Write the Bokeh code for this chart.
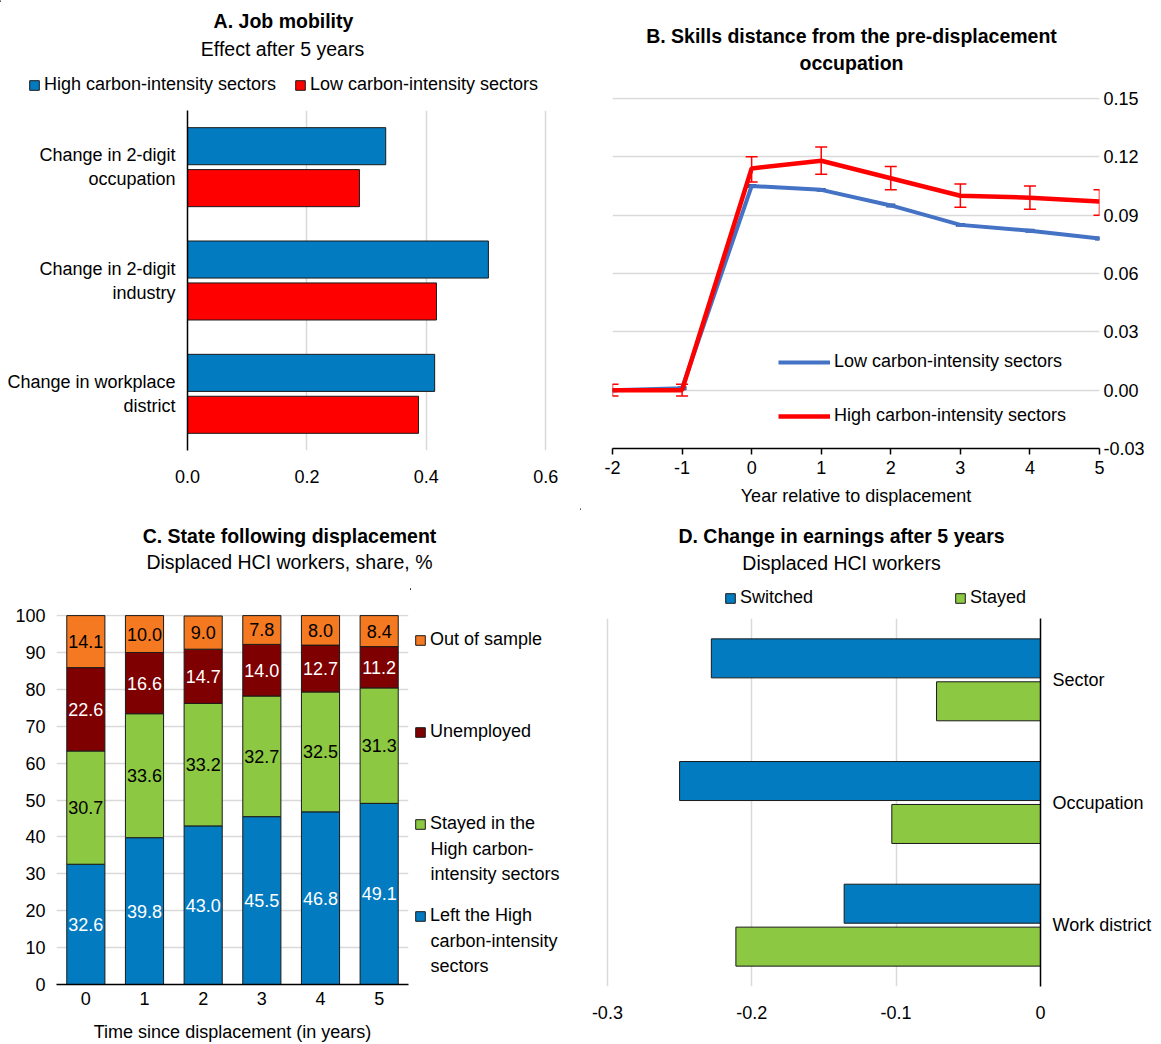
import numpy as np
from bokeh.plotting import figure
from bokeh.models import (ColumnDataSource, FactorRange, Range1d, FixedTicker, NumeralTickFormatter,
                          Legend, LegendItem, Label, Whisker, TeeHead)
from bokeh.transform import dodge
from bokeh.layouts import row, column
from bokeh.core.properties import value
from bokeh.embed import file_html
from bokeh.resources import INLINE

FONT = "Liberation Sans"
FS = "18px"
TFS = "19.5px"
BLUE = "#037BC1"
RED = "#FF0000"
GREEN = "#8CC841"
DARKRED = "#7F0000"
ORANGE = "#F47920"
LINEBLUE = "#4472C4"
GRID = "#D9D9D9"
EDGE = "#1A1A1A"

# ---------------- data ----------------
# Panel A
a_categories = ["Change in 2-digit\noccupation", "Change in 2-digit\nindustry", "Change in workplace\ndistrict"]
a_high = [0.332, 0.504, 0.414]
a_low = [0.288, 0.417, 0.387]
a_series = ["High carbon-intensity sectors", "Low carbon-intensity sectors"]
a_ticks = [0.0, 0.2, 0.4, 0.6]

# Panel B
b_years = [-2, -1, 0, 1, 2, 3, 4, 5]
b_low = [0.000, 0.001, 0.105, 0.103, 0.095, 0.085, 0.082, 0.078]
b_low_lo = [-0.0005, 0.0005, 0.1045, 0.1025, 0.0945, 0.0845, 0.0815, 0.0775]
b_low_hi = [0.0005, 0.0015, 0.1055, 0.1035, 0.0955, 0.0855, 0.0825, 0.0785]
b_high = [0.000, 0.000, 0.114, 0.118, 0.109, 0.100, 0.099, 0.097]
b_high_lo = [-0.003, -0.003, 0.107, 0.111, 0.103, 0.094, 0.093, 0.090]
b_high_hi = [0.003, 0.003, 0.120, 0.125, 0.115, 0.106, 0.105, 0.103]
b_series = ["Low carbon-intensity sectors", "High carbon-intensity sectors"]
b_yticks = [-0.03, 0.0, 0.03, 0.06, 0.09, 0.12, 0.15]
b_xticks = [-2, -1, 0, 1, 2, 3, 4, 5]

# Panel C
c_years = ["0", "1", "2", "3", "4", "5"]
c_left = [32.6, 39.8, 43.0, 45.5, 46.8, 49.1]
c_stayed = [30.7, 33.6, 33.2, 32.7, 32.5, 31.3]
c_unemp = [22.6, 16.6, 14.7, 14.0, 12.7, 11.2]
c_out = [14.1, 10.0, 9.0, 7.8, 8.0, 8.4]
c_series = ["Left the High\ncarbon-intensity\nsectors", "Stayed in the\nHigh carbon-\nintensity sectors",
            "Unemployed", "Out of sample"]
c_yticks = [0, 10, 20, 30, 40, 50, 60, 70, 80, 90, 100]

# Panel D
d_categories = ["Sector", "Occupation", "Work district"]
d_switched = [-0.228, -0.250, -0.136]
d_stayed = [-0.072, -0.103, -0.211]
d_series = ["Switched", "Stayed"]
d_ticks = [-0.3, -0.2, -0.1, 0.0]

TOP_H = 508          # height of the upper row of panels
BOT_H = 1044 - TOP_H


def style_common(p):
    p.outline_line_color = None
    p.background_fill_color = "white"
    p.border_fill_color = "white"
    for ax in p.axis:
        ax.major_label_text_font = FONT
        ax.major_label_text_font_size = FS
        ax.major_label_text_color = "#000000"
        ax.axis_label_text_font = FONT
        ax.axis_label_text_font_size = FS
        ax.axis_label_text_font_style = "normal"
        ax.axis_label_text_color = "#000000"
        ax.minor_tick_line_color = None


def header(w, h):
    f = figure(width=w, height=h, x_range=Range1d(0, w), y_range=Range1d(h, 0),
               x_axis_location=None, y_axis_location=None, min_border=0,
               output_backend="svg", toolbar_location=None, frame_align=False)
    f.grid.visible = False
    f.outline_line_color = None
    f.background_fill_color = "white"
    f.border_fill_color = "white"
    return f


def add_text(p, text, x, y, bold=False, size=TFS, align="center"):
    p.add_layout(Label(x=x, y=y, text=text, text_font=FONT, text_font_size=size,
                       text_font_style="bold" if bold else "normal",
                       text_align=align, text_baseline="middle", text_color="#000000"))


def legend_swatch(p, color):
    # off-canvas renderer used only to draw the legend key
    return p.vbar(x=[-5000], top=[1], width=1, fill_color=color, line_color=EDGE, line_width=1)


def single_legend(p, label, renderer, loc, gw=12, gh=12):
    lg = Legend(items=[LegendItem(label=label, renderers=[renderer])], location=loc,
                glyph_width=gw, glyph_height=gh, label_height=20, padding=0, margin=0,
                border_line_color=None, background_fill_alpha=0, label_standoff=4,
                label_text_font=FONT, label_text_font_size=FS, label_text_color="#000000")
    p.add_layout(lg)
    return lg


# ---------------- Panel A ----------------
hA = header(580, 100)
add_text(hA, "A. Job mobility", 283, 20, bold=True)
add_text(hA, "Effect after 5 years", 282, 48)
single_legend(hA, a_series[0], legend_swatch(hA, BLUE), (28, 100 - 95))
single_legend(hA, a_series[1], legend_swatch(hA, RED), (294, 100 - 95))

srcA = ColumnDataSource(dict(cat=a_categories, high=a_high, low=a_low))
pA = figure(width=580, height=TOP_H - 100, x_range=Range1d(0, 0.603),
            y_range=FactorRange(factors=a_categories[::-1], range_padding=0),
            output_backend="svg", toolbar_location=None, frame_align=False,
            min_border_left=187, min_border_right=33, min_border_top=10,
            min_border_bottom=TOP_H - 450)
pA.hbar(y=dodge("cat", 0.185, range=pA.y_range), left=0, right="high", height=0.327,
        source=srcA, fill_color=BLUE, line_color=EDGE, line_width=1)
pA.hbar(y=dodge("cat", -0.185, range=pA.y_range), left=0, right="low", height=0.327,
        source=srcA, fill_color=RED, line_color=EDGE, line_width=1)
style_common(pA)
pA.ygrid.grid_line_color = None
pA.xgrid.grid_line_color = GRID
pA.xgrid.grid_line_width = 1.5
pA.xgrid.ticker = FixedTicker(ticks=a_ticks)
pA.xaxis.ticker = FixedTicker(ticks=a_ticks)
pA.xaxis.formatter = NumeralTickFormatter(format="0.0")
pA.xaxis.axis_line_color = None
pA.xaxis.major_tick_line_color = None
pA.xaxis.major_tick_out = 0
pA.xaxis.major_tick_in = 0
pA.xaxis.major_label_standoff = 19
pA.yaxis.axis_line_color = "#000000"
pA.yaxis.axis_line_width = 1.5
pA.yaxis.major_tick_line_color = None
pA.yaxis.major_tick_out = 0
pA.yaxis.major_tick_in = 0
pA.yaxis.major_label_standoff = 12
pA.yaxis.major_label_text_align = "center"

# ---------------- Panel B ----------------
hB = header(581, 80)
add_text(hB, "B. Skills distance from the pre-displacement", 271, 35, bold=True)
add_text(hB, "occupation", 271, 62, bold=True)

srcB = ColumnDataSource(dict(year=b_years, low=b_low, low_lo=b_low_lo, low_hi=b_low_hi,
                             high=b_high, high_lo=b_high_lo, high_hi=b_high_hi))
pB = figure(width=581, height=TOP_H - 80, x_range=Range1d(-2, 5), y_range=Range1d(-0.03, 0.1505),
            y_axis_location="right", output_backend="svg", toolbar_location=None, frame_align=False,
            min_border_left=32, min_border_right=62, min_border_top=17,
            min_border_bottom=TOP_H - 449)
rBl = pB.line("year", "low", source=srcB, line_color=LINEBLUE, line_width=4)
pB.add_layout(Whisker(source=srcB, base="year", lower="low_lo", upper="low_hi",
                      line_color="#2F5597", line_width=1,
                      lower_head=TeeHead(size=9, line_color="#2F5597", line_width=2),
                      upper_head=TeeHead(size=9, line_color="#2F5597", line_width=2)))
rBh = pB.line("year", "high", source=srcB, line_color=RED, line_width=4.5)
pB.add_layout(Whisker(source=srcB, base="year", lower="high_lo", upper="high_hi",
                      line_color=RED, line_width=1.5,
                      lower_head=TeeHead(size=12, line_color=RED, line_width=1.5),
                      upper_head=TeeHead(size=12, line_color=RED, line_width=1.5)))
style_common(pB)
pB.xgrid.grid_line_color = None
pB.ygrid.grid_line_color = GRID
pB.ygrid.grid_line_width = 1.5
pB.ygrid.ticker = FixedTicker(ticks=b_yticks)
pB.yaxis.ticker = FixedTicker(ticks=b_yticks)
pB.yaxis.formatter = NumeralTickFormatter(format="0.00")
pB.yaxis.axis_line_color = None
pB.yaxis.major_tick_line_color = None
pB.yaxis.major_tick_out = 0
pB.yaxis.major_tick_in = 0
pB.yaxis.major_label_standoff = 4
pB.xaxis.ticker = FixedTicker(ticks=b_xticks)
pB.xaxis.formatter = NumeralTickFormatter(format="0")
pB.xaxis.axis_line_color = "#000000"
pB.xaxis.axis_line_width = 1.5
pB.xaxis.major_tick_line_color = "#000000"
pB.xaxis.major_tick_line_width = 1.5
pB.xaxis.major_tick_out = 6
pB.xaxis.major_tick_in = 0
pB.xaxis.major_label_standoff = 6
pB.xaxis.axis_label = "Year relative to displacement"
pB.xaxis.axis_label_standoff = 9
lgB = Legend(items=[LegendItem(label=b_series[0], renderers=[rBl]),
                    LegendItem(label=b_series[1], renderers=[rBh])],
             location=(778 - 612, 22), glyph_width=52, glyph_height=20, label_height=20,
             spacing=33, padding=0, margin=0, border_line_color=None, background_fill_alpha=0,
             label_standoff=4, label_text_font=FONT, label_text_font_size=FS,
             label_text_color="#000000")
pB.add_layout(lgB)

# ---------------- Panel C ----------------
hC = header(580, 80)
add_text(hC, "C. State following displacement", 289, 535 - TOP_H, bold=True)
add_text(hC, "Displaced HCI workers, share, %", 289, 561 - TOP_H)

c_stack = np.array([c_left, c_stayed, c_unemp, c_out])
c_bottoms = np.vstack([np.zeros(len(c_years)), np.cumsum(c_stack, axis=0)[:-1]])
c_centers = c_bottoms + c_stack / 2
srcC = ColumnDataSource(dict(year=c_years, left=c_left, stayed=c_stayed, unemp=c_unemp, out=c_out))
c_h = BOT_H - 80
pC = figure(width=410, height=c_h, x_range=FactorRange(factors=c_years, range_padding=0),
            y_range=Range1d(0, 100.3), output_backend="svg", toolbar_location=None, frame_align=False,
            min_border_left=56, min_border_right=2, min_border_top=614 - (TOP_H + 80),
            min_border_bottom=59)
pC.vbar_stack(["left", "stayed", "unemp", "out"], x="year", width=0.65, source=srcC,
              fill_color=[BLUE, GREEN, DARKRED, ORANGE], line_color=EDGE, line_width=1)
lab_x, lab_y, lab_t, lab_c = [], [], [], []
text_colors = ["#FFFFFF", "#000000", "#FFFFFF", "#000000"]
for k in range(4):
    for j, yr in enumerate(c_years):
        lab_x.append(yr)
        lab_y.append(float(c_centers[k, j]))
        lab_t.append(f"{c_stack[k, j]:.1f}")
        lab_c.append(text_colors[k])
pC.text(x="x", y="y", text="t", text_color="c",
        source=ColumnDataSource(dict(x=lab_x, y=lab_y, t=lab_t, c=lab_c)),
        text_font=value(FONT), text_font_size=FS, text_align="center", text_baseline="middle")
style_common(pC)
pC.xgrid.grid_line_color = None
pC.ygrid.grid_line_color = GRID
pC.ygrid.grid_line_width = 1.5
pC.ygrid.ticker = FixedTicker(ticks=c_yticks)
pC.yaxis.ticker = FixedTicker(ticks=c_yticks)
pC.yaxis.axis_line_color = None
pC.yaxis.major_tick_line_color = None
pC.yaxis.major_tick_out = 0
pC.yaxis.major_tick_in = 0
pC.yaxis.major_label_standoff = 11
pC.xaxis.axis_line_color = "#000000"
pC.xaxis.axis_line_width = 1.5
pC.xaxis.major_tick_line_color = None
pC.xaxis.major_tick_out = 0
pC.xaxis.major_tick_in = 0
pC.xaxis.major_label_standoff = 7
pC.xaxis.axis_label = "Time since displacement (in years)"
pC.xaxis.axis_label_standoff = 14

# legend of panel C: key aligned with the first line of each entry
lC = header(170, c_h)
c_colors = [BLUE, GREEN, DARKRED, ORANGE]
c_first_line_y = [916, 824, 732, 640]     # canvas y of the first line of each entry
c_line_gap = 24.5
for k in range(4):
    lines = c_series[k].split("\n")
    single_legend(lC, lines[0], legend_swatch(lC, c_colors[k]), (4, 1044 - (c_first_line_y[k] + 10)))
    for n, extra in enumerate(lines[1:], start=1):
        add_text(lC, extra, 20, c_first_line_y[k] - (TOP_H + 80) + n * c_line_gap,
                 size=FS, align="left")

# ---------------- Panel D ----------------
d_head = 105
hD = header(581, d_head)
add_text(hD, "D. Change in earnings after 5 years", 261, 535 - TOP_H, bold=True)
add_text(hD, "Displaced HCI workers", 261, 562 - TOP_H)
single_legend(hD, d_series[0], legend_swatch(hD, BLUE), (144, d_head - (598 - TOP_H + 10)))
single_legend(hD, d_series[1], legend_swatch(hD, GREEN), (374, d_head - (598 - TOP_H + 10)))

srcD = ColumnDataSource(dict(cat=d_categories, switched=d_switched, stayed=d_stayed))
pD = figure(width=581, height=BOT_H - d_head, x_range=Range1d(-0.302, 0),
            y_range=FactorRange(factors=d_categories[::-1], range_padding=0),
            y_axis_location="right", output_backend="svg", toolbar_location=None, frame_align=False,
            min_border_left=24, min_border_right=121, min_border_top=618 - (TOP_H + d_head),
            min_border_bottom=58)
pD.hbar(y=dodge("cat", 0.175, range=pD.y_range), left="switched", right=0, height=0.318,
        source=srcD, fill_color=BLUE, line_color=EDGE, line_width=1)
pD.hbar(y=dodge("cat", -0.175, range=pD.y_range), left="stayed", right=0, height=0.318,
        source=srcD, fill_color=GREEN, line_color=EDGE, line_width=1)
style_common(pD)
pD.ygrid.grid_line_color = None
pD.xgrid.grid_line_color = GRID
pD.xgrid.grid_line_width = 1.5
pD.xgrid.ticker = FixedTicker(ticks=d_ticks)
pD.xaxis.ticker = FixedTicker(ticks=d_ticks)
pD.xaxis.formatter = NumeralTickFormatter(format="0.[0]")
pD.xaxis.axis_line_color = None
pD.xaxis.major_tick_line_color = None
pD.xaxis.major_tick_out = 0
pD.xaxis.major_tick_in = 0
pD.xaxis.major_label_standoff = 19
pD.yaxis.axis_line_color = "#000000"
pD.yaxis.axis_line_width = 1.5
pD.yaxis.major_tick_line_color = None
pD.yaxis.major_tick_out = 0
pD.yaxis.major_tick_in = 0
pD.yaxis.major_label_standoff = 12

layout = column(
    row(column(hA, pA), column(hB, pB)),
    row(column(hC, row(pC, lC)), column(hD, pD)),
)
open("out.html", "w").write(file_html(layout, INLINE))
